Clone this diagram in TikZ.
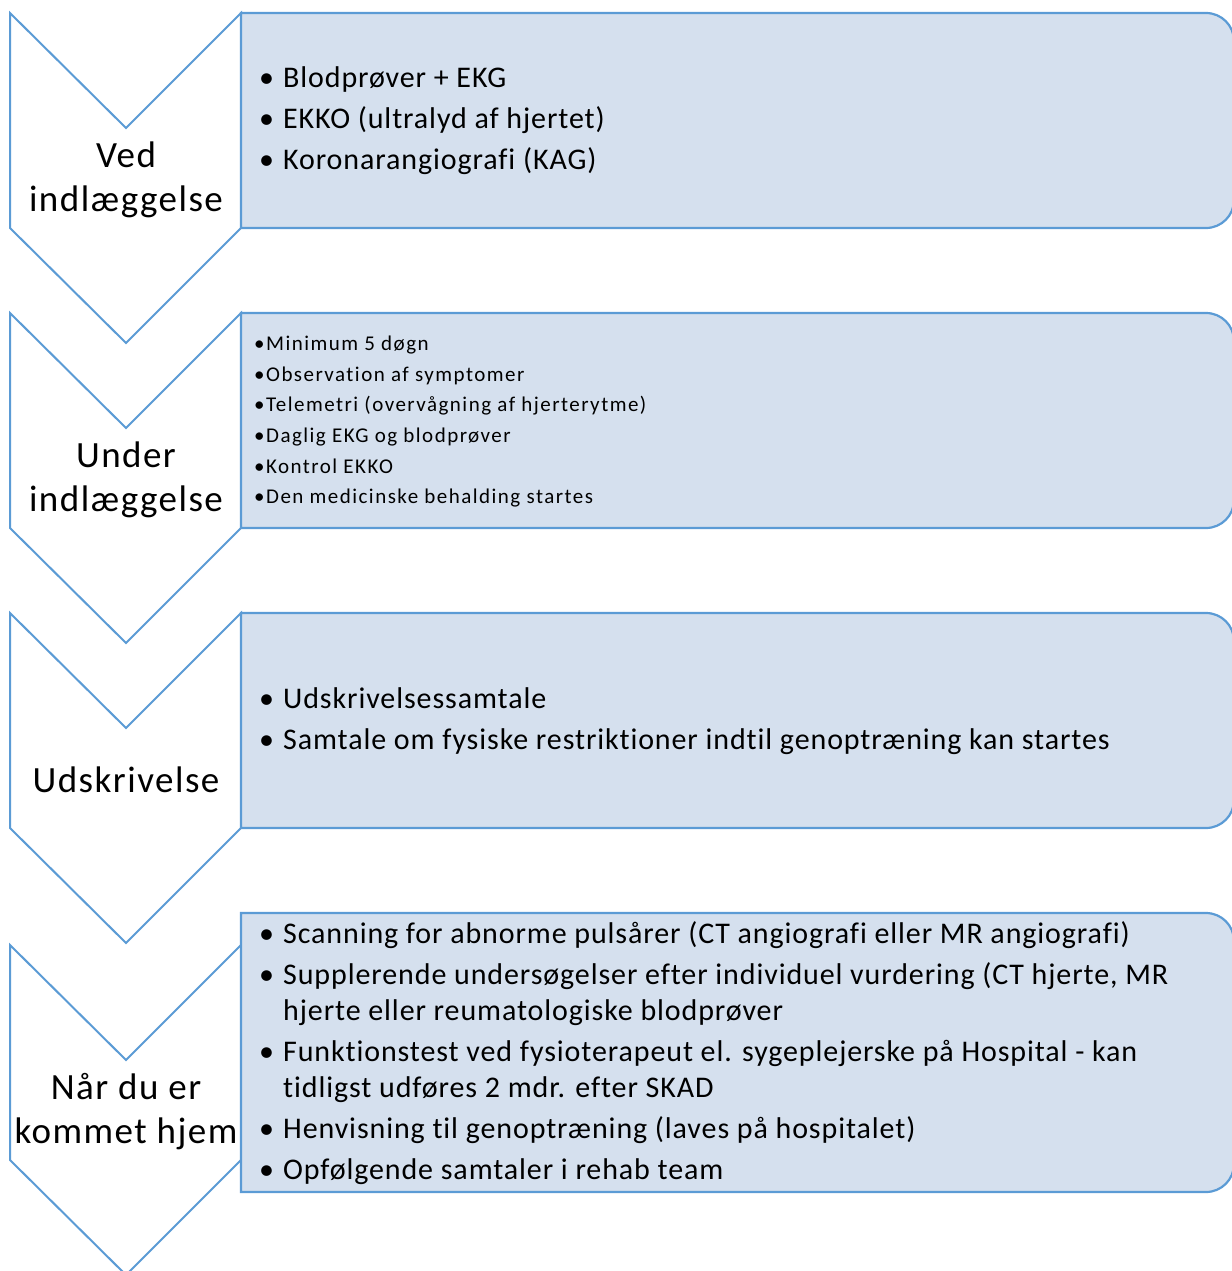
\documentclass[tikz,border=0pt]{standalone}
\usepackage{fontspec}
\setmainfont{Carlito}[Ligatures=NoCommon]
\definecolor{edgeblue}{RGB}{91,155,213}
\definecolor{boxfill}{RGB}{213,224,238}
\newcommand\chevshape[2]{%
  \path[chev] (10,#1) -- (126,{#1+115}) -- (241,#1) -- (241,{#1+215}) -- (126,{#1+330}) -- (10,{#1+215}) -- cycle;
  \node[lab] (#2) at (126,{#1+167}) }
\newcommand\panelshape[2]{%
  \path[panel] (241,#1) -- (1206,#1) arc[start angle=-90,end angle=0,radius=28] -- (1234,{#2-28}) arc[start angle=0,end angle=90,radius=28] -- (241,#2) -- cycle;}
\newcommand\bigtxt{\fontsize{30}{36}\selectfont\addfontfeatures{LetterSpace=3}}
\begin{document}
\begin{tikzpicture}[x=1pt,y=-1pt,
  chev/.style={draw=edgeblue, line width=2pt, fill=white, line join=miter},
  panel/.style={draw=edgeblue, line width=2.2pt, fill=boxfill},
  lab/.style={font=\fontsize{37}{44}\selectfont\addfontfeatures{LetterSpace=4}, align=center, inner sep=0pt},
  items/.style={anchor=west, inner sep=0pt, align=left},
]
\useasboundingbox (0,0) rectangle (1231,1271);
% chevrons
\chevshape{13}{c1} {Ved\\indlæggelse};
\chevshape{313}{c2} {Under\\indlæggelse};
\chevshape{613}{c3} {Udskrivelse};
\chevshape{945}{c4} {Når du er\\kommet hjem};
% panels
\panelshape{13}{228}
\panelshape{313}{528}
\panelshape{613}{828}
\panelshape{913}{1192}
% texts
\node[items, font=\bigtxt] (t1) at (259,121) {%
\begin{tabular}{@{}p{24pt}@{}l@{}}
•&Blodprøver + EKG\\[5pt]
•&EKKO (ultralyd af hjertet)\\[5pt]
•&Koronarangiografi (KAG)
\end{tabular}};
\node[items, font=\fontsize{21}{30.6}\selectfont\addfontfeatures{LetterSpace=7}] (t2) at (254,421) {%
\begin{tabular}{@{}l@{}}
•Minimum 5 døgn\\
•Observation af symptomer\\
•Telemetri (overvågning af hjerterytme)\\
•Daglig EKG og blodprøver\\
•Kontrol EKKO\\
•Den medicinske behalding startes
\end{tabular}};
\node[items, font=\bigtxt] (t3) at (259,722) {%
\begin{tabular}{@{}p{24pt}@{}l@{}}
•&Udskrivelsessamtale\\[5pt]
•&Samtale om fysiske restriktioner indtil genoptræning kan startes
\end{tabular}};
\node[items, font=\bigtxt] (t4) at (259,1054) {%
\begin{tabular}{@{}p{24pt}@{}l@{}}
•&Scanning for abnorme pulsårer (CT angiografi eller MR angiografi)\\[5pt]
•&Supplerende undersøgelser efter individuel vurdering (CT hjerte, MR\\
&hjerte eller reumatologiske blodprøver\\[5pt]
•&Funktionstest ved fysioterapeut el. sygeplejerske på Hospital - kan\\
&tidligst udføres 2 mdr. efter SKAD\\[5pt]
•&Henvisning til genoptræning (laves på hospitalet)\\[5pt]
•&Opfølgende samtaler i rehab team
\end{tabular}};
\end{tikzpicture}
\end{document}
